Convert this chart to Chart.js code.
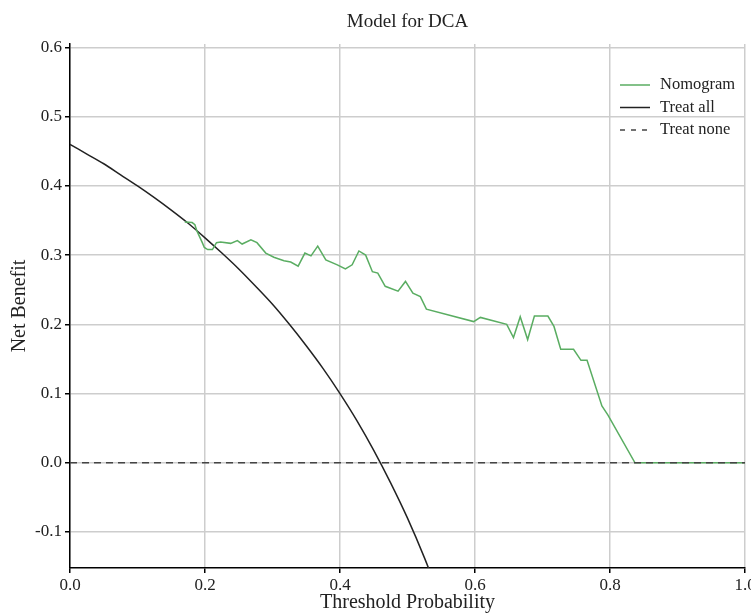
<!DOCTYPE html>
<html>
<head>
<meta charset="utf-8">
<script src="https://cdn.jsdelivr.net/npm/chart.js@4.4.0/dist/chart.umd.min.js"></script>
<style>
  html, body { margin: 0; padding: 0; background: #fff; overflow: hidden; }
  #wrap { width: 751px; height: 613px; }
</style>
</head>
<body>
<div id="wrap"><canvas id="dca" width="751" height="613"></canvas></div>
<script>
// values
const nomogramX = [0.170, 0.181, 0.185, 0.188, 0.196, 0.199, 0.204, 0.211, 0.217, 0.223, 0.238, 0.248, 0.255, 0.268, 0.277, 0.290, 0.302, 0.317, 0.327, 0.338, 0.348, 0.357, 0.367, 0.379, 0.396, 0.408, 0.418, 0.428, 0.438, 0.448, 0.456, 0.467, 0.486, 0.497, 0.508, 0.519, 0.528, 0.598, 0.608, 0.647, 0.657, 0.667, 0.678, 0.688, 0.708, 0.717, 0.727, 0.746, 0.757, 0.766, 0.788, 0.797, 0.837, 0.900, 1.000];
const nomogramY = [0.348, 0.347, 0.344, 0.335, 0.318, 0.311, 0.308, 0.308, 0.318, 0.319, 0.317, 0.321, 0.316, 0.322, 0.318, 0.303, 0.297, 0.292, 0.290, 0.284, 0.303, 0.299, 0.313, 0.293, 0.286, 0.280, 0.286, 0.306, 0.300, 0.276, 0.274, 0.255, 0.248, 0.262, 0.245, 0.240, 0.222, 0.204, 0.210, 0.200, 0.181, 0.211, 0.178, 0.212, 0.212, 0.197, 0.164, 0.164, 0.148, 0.148, 0.082, 0.069, 0.000, 0.000, 0.000];

const treatAllX = [0, 0.025, 0.05, 0.075, 0.1, 0.125, 0.15, 0.175, 0.2, 0.225, 0.25, 0.275, 0.3, 0.325, 0.35, 0.375, 0.4, 0.425, 0.45, 0.475, 0.5, 0.525, 0.55];
const treatAllY = [0.460, 0.446, 0.432, 0.416, 0.400, 0.383, 0.365, 0.346, 0.325, 0.303, 0.280, 0.255, 0.229, 0.200, 0.169, 0.136, 0.100, 0.061, 0.018, -0.029, -0.080, -0.137, -0.200];

const treatNoneX = [0, 1];
const treatNoneY = [0, 0];

const xTicks = [0, 0.2, 0.4, 0.6, 0.8, 1.0];
const yTicks = [-0.1, 0.0, 0.1, 0.2, 0.3, 0.4, 0.5, 0.6];

const serif = '"Liberation Serif", "DejaVu Serif", serif';
const greenColor = '#5aad62';
const blackColor = '#222222';
const dashColor = '#444444';

function toPoints(xs, ys) {
    return xs.map((x, i) => ({ x: x, y: ys[i] }));
}

const whiteBg = {
    id: 'whiteBg',
    beforeDraw(chart) {
        const c = chart.ctx;
        c.save();
        c.fillStyle = '#fff';
        c.fillRect(0, 0, chart.width, chart.height);
        c.restore();
    }
};

// title and legend drawn by hand so they sit where the reference has them
const titleAndLegend = {
    id: 'titleAndLegend',
    afterDraw(chart) {
        const c = chart.ctx;
        const area = chart.chartArea;
        c.save();
        c.fillStyle = blackColor;
        c.font = '19px ' + serif;
        c.textAlign = 'center';
        c.textBaseline = 'middle';
        c.fillText('Model for DCA', (area.left + area.right) / 2, 22);

        const items = [
            { label: 'Nomogram', color: greenColor, dash: [] },
            { label: 'Treat all', color: blackColor, dash: [] },
            { label: 'Treat none', color: dashColor, dash: [5, 6] }
        ];
        c.font = '16.5px ' + serif;
        c.textAlign = 'left';
        items.forEach((it, i) => {
            const y = 85 + i * 22.5;
            c.beginPath();
            c.setLineDash(it.dash);
            c.strokeStyle = it.color;
            c.lineWidth = 1.5;
            c.moveTo(620, y);
            c.lineTo(650, y);
            c.stroke();
            c.fillStyle = blackColor;
            c.fillText(it.label, 660, y);
        });
        c.restore();
    }
};

const ctx = document.getElementById('dca').getContext('2d');
new Chart(ctx, {
    type: 'line',
    data: {
        datasets: [
            {
                label: 'Treat none',
                data: toPoints(treatNoneX, treatNoneY),
                borderColor: dashColor,
                borderWidth: 1.5,
                borderDash: [7, 5],
                pointRadius: 0,
                order: 0
            },
            {
                label: 'Nomogram',
                data: toPoints(nomogramX, nomogramY),
                borderColor: greenColor,
                borderWidth: 1.5,
                pointRadius: 0,
                tension: 0,
                order: 1
            },
            {
                label: 'Treat all',
                data: toPoints(treatAllX, treatAllY),
                borderColor: blackColor,
                borderWidth: 1.5,
                pointRadius: 0,
                tension: 0.3,
                order: 2
            }
        ]
    },
    options: {
        responsive: false,
        animation: false,
        devicePixelRatio: 1,
        layout: { padding: { top: 44, left: 0, right: 6, bottom: 0 } },
        plugins: {
            legend: { display: false },
            title: { display: false },
            tooltip: { enabled: false }
        },
        scales: {
            x: {
                type: 'linear',
                min: 0,
                max: 1.0,
                afterBuildTicks: (scale) => { scale.ticks = xTicks.map(v => ({ value: v })); },
                afterFit: (scale) => {
                    scale.paddingLeft = 0;
                    scale.paddingRight = 0;
                    scale.height = 45;
                },
                grid: {
                    color: '#cdcdcd',
                    lineWidth: 1.5,
                    tickColor: '#000',
                    tickLength: 5
                },
                border: { color: '#000', width: 1.5 },
                ticks: {
                    color: '#222',
                    font: { family: serif, size: 17 },
                    padding: 2,
                    maxRotation: 0,
                    callback: (v) => Number(v).toFixed(1)
                },
                title: {
                    display: true,
                    text: 'Threshold Probability',
                    color: '#222',
                    font: { family: serif, size: 20, lineHeight: 1 },
                    padding: { top: 0, bottom: 0 }
                }
            },
            y: {
                type: 'linear',
                min: -0.152,
                max: 0.605,
                afterBuildTicks: (scale) => { scale.ticks = yTicks.map(v => ({ value: v })); },
                afterFit: (scale) => { scale.width = 70; },
                grid: {
                    color: '#cdcdcd',
                    lineWidth: 1.5,
                    tickColor: '#000',
                    tickLength: 5
                },
                border: { color: '#000', width: 1.5 },
                ticks: {
                    color: '#222',
                    font: { family: serif, size: 17 },
                    padding: 3,
                    callback: (v) => Number(v).toFixed(1)
                },
                title: {
                    display: true,
                    text: 'Net Benefit',
                    color: '#222',
                    font: { family: serif, size: 20 },
                    padding: { top: 8, bottom: 0 }
                }
            }
        }
    },
    plugins: [whiteBg, titleAndLegend]
});
</script>
</body>
</html>
